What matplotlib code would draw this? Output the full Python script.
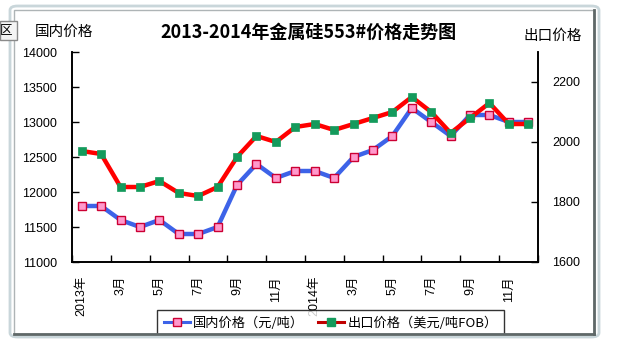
import matplotlib.pyplot as plt
from matplotlib.patches import Rectangle, FancyBboxPatch
from matplotlib.lines import Line2D

plt.rcParams['font.family'] = ['Liberation Sans', 'Noto Sans CJK SC']

# 2013年1月 - 2014年12月
months = ['2013年', '2月', '3月', '4月', '5月', '6月', '7月', '8月', '9月', '10月', '11月', '12月',
          '2014年', '2月', '3月', '4月', '5月', '6月', '7月', '8月', '9月', '10月', '11月', '12月']
domestic = [11800, 11800, 11600, 11500, 11600, 11400, 11400, 11500, 12100, 12400, 12200, 12300,
            12300, 12200, 12500, 12600, 12800, 13200, 13000, 12800, 13100, 13100, 13000, 13000]
export = [1970, 1960, 1850, 1850, 1870, 1830, 1820, 1850, 1950, 2020, 2000, 2050,
          2060, 2040, 2060, 2080, 2100, 2150, 2100, 2030, 2080, 2130, 2060, 2060]

W, H = 631, 354
fig = plt.figure(figsize=(W / 100, H / 100), dpi=100)
ax = fig.add_axes([72 / W, 1 - 262 / H, (538 - 72) / W, (262 - 52) / H])
ax2 = ax.twinx()

x = list(range(len(months)))
ax.plot(x, domestic, color='#3D63E8', lw=3.2, marker='s', ms=5.5,
        mfc='#FF99CC', mec='#CC0033', mew=1.0, zorder=3)
ax2.plot(x, export, color='#FF0000', lw=3.2, marker='s', ms=5.5,
         mfc='#149A5C', mec='#149A5C', mew=0.5, zorder=3)

ax.set_xlim(-0.5, len(months) - 0.5)
ax.set_ylim(11000, 14000)
ax.set_yticks(range(11000, 14001, 500))
ax2.set_ylim(1600, 2300)
ax2.set_yticks(range(1600, 2201, 200))

ax.set_xticks(x[::2])
ax.set_xticklabels(months[::2], rotation=90, fontsize=9)
ax.set_xticks([i - 0.5 for i in x[::2]] + [len(months) - 0.5], minor=True)
ax.tick_params(axis='x', which='major', length=0, pad=10)
ax.tick_params(axis='x', which='minor', length=5, direction='in', width=1)
ax.tick_params(axis='y', direction='in', length=5, width=1, labelsize=9, pad=11)
ax2.tick_params(axis='y', direction='in', length=5, width=1, labelsize=9, pad=10)

for a in (ax, ax2):
    a.spines['top'].set_visible(False)
    for s in ('left', 'right', 'bottom'):
        a.spines[s].set_linewidth(1.2)

fig.text(308 / W, 1 - 32 / H, '2013-2014年金属硅553#价格走势图', ha='center', va='center',
         fontsize=13, fontweight='bold', family=['Noto Sans CJK SC'])
fig.text(64 / W, 1 - 32 / H, '国内价格', ha='center', va='center', fontsize=10.5,
         family=['Noto Sans CJK SC'])
fig.text(553 / W, 1 - 36 / H, '出口价格', ha='center', va='center', fontsize=10.5,
         family=['Noto Sans CJK SC'])

handles = [Line2D([], [], color='#3D63E8', lw=2.2, marker='s', ms=5.5, mfc='#FF99CC', mec='#CC0033'),
           Line2D([], [], color='#C00000', lw=2.2, marker='s', ms=5.5, mfc='#149A5C', mec='#149A5C')]
leg = fig.legend(handles, ['国内价格（元/吨）', '出口价格（美元/吨FOB）'], ncol=2,
                 loc='upper left', bbox_to_anchor=(157 / W, 1 - 310 / H), borderaxespad=0,
                 prop={'family': ['Noto Sans CJK SC'], 'size': 9.5},
                 frameon=True, fancybox=False, edgecolor='black', borderpad=0.5,
                 handlelength=2.0, handletextpad=0.25, columnspacing=1.0)
leg.get_frame().set_linewidth(1.0)
leg.set_zorder(5)

# 窗口边框
fig.patches.append(Rectangle((0, 0), 1, (H - 334) / H, transform=fig.transFigure,
                             facecolor='white', edgecolor='none', zorder=9))
fig.patches.append(FancyBboxPatch((10 / W, 1 - 337 / H), 589 / W, 331 / H,
                                  boxstyle='round,pad=0,rounding_size=0.012',
                                  transform=fig.transFigure, facecolor='none',
                                  edgecolor='#C9D6DA', lw=2, zorder=10))
fig.patches.append(Rectangle((14 / W, 1 - 334 / H), 580 / W, 324 / H, transform=fig.transFigure,
                             facecolor='none', edgecolor='#AEB4B6', lw=1, zorder=10))
fig.lines.append(Line2D([14 / W, 594 / W], [1 - 334 / H] * 2, transform=fig.transFigure,
                        color='#5F6868', lw=2, zorder=11))
fig.lines.append(Line2D([594 / W] * 2, [1 - 334 / H, 1 - 10 / H], transform=fig.transFigure,
                        color='#5F6868', lw=2, zorder=11))

# 左上角的小按钮
fig.patches.append(Rectangle((0, 1 - 40 / H), 17 / W, 19 / H, transform=fig.transFigure,
                             facecolor='#F4F4F4', edgecolor='#8A8A8A', lw=1, zorder=12))
fig.text(6 / W, 1 - 30.5 / H, '区', ha='center', va='center', fontsize=9,
         family=['Noto Sans CJK SC'], zorder=13)

fig.savefig('out.png', dpi=100)
